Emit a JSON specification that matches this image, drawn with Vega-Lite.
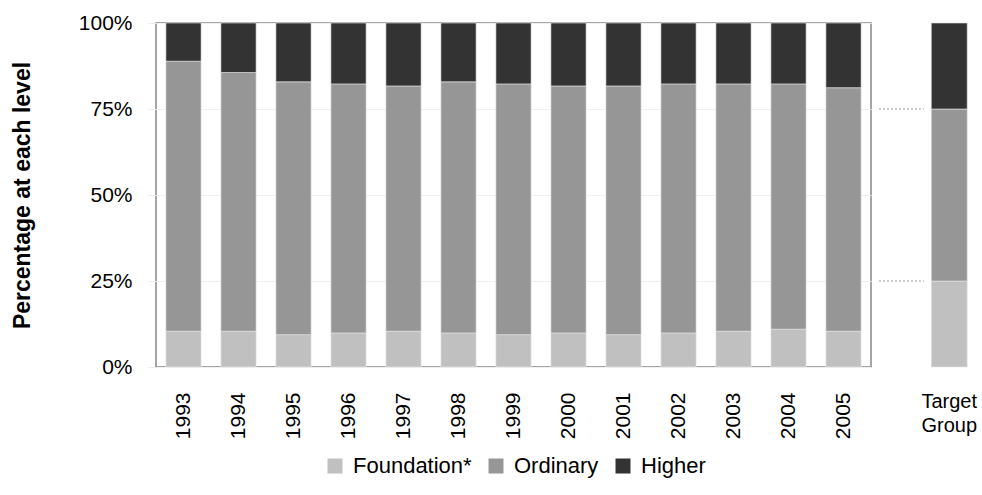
{
  "$schema": "https://vega.github.io/schema/vega-lite/v6.json",
  "padding": {"left": 10, "top": 11, "right": 5, "bottom": 5},
  "background": "white",
  "config": {
    "font": "Liberation Sans",
    "axis": {"labelColor": "#000", "titleColor": "#000"},
    "legend": {"labelColor": "#000"}
  },
  "datasets": {
    "years": [
      {"year": "1993", "level": "Foundation*", "value": 10.4},
      {"year": "1993", "level": "Ordinary", "value": 78.5},
      {"year": "1993", "level": "Higher", "value": 11.1},
      {"year": "1994", "level": "Foundation*", "value": 10.4},
      {"year": "1994", "level": "Ordinary", "value": 75.2},
      {"year": "1994", "level": "Higher", "value": 14.4},
      {"year": "1995", "level": "Foundation*", "value": 9.4},
      {"year": "1995", "level": "Ordinary", "value": 73.5},
      {"year": "1995", "level": "Higher", "value": 17.1},
      {"year": "1996", "level": "Foundation*", "value": 9.9},
      {"year": "1996", "level": "Ordinary", "value": 72.4},
      {"year": "1996", "level": "Higher", "value": 17.7},
      {"year": "1997", "level": "Foundation*", "value": 10.4},
      {"year": "1997", "level": "Ordinary", "value": 71.3},
      {"year": "1997", "level": "Higher", "value": 18.3},
      {"year": "1998", "level": "Foundation*", "value": 9.9},
      {"year": "1998", "level": "Ordinary", "value": 73.0},
      {"year": "1998", "level": "Higher", "value": 17.1},
      {"year": "1999", "level": "Foundation*", "value": 9.4},
      {"year": "1999", "level": "Ordinary", "value": 72.9},
      {"year": "1999", "level": "Higher", "value": 17.7},
      {"year": "2000", "level": "Foundation*", "value": 9.9},
      {"year": "2000", "level": "Ordinary", "value": 71.8},
      {"year": "2000", "level": "Higher", "value": 18.3},
      {"year": "2001", "level": "Foundation*", "value": 9.4},
      {"year": "2001", "level": "Ordinary", "value": 72.3},
      {"year": "2001", "level": "Higher", "value": 18.3},
      {"year": "2002", "level": "Foundation*", "value": 9.9},
      {"year": "2002", "level": "Ordinary", "value": 72.4},
      {"year": "2002", "level": "Higher", "value": 17.7},
      {"year": "2003", "level": "Foundation*", "value": 10.4},
      {"year": "2003", "level": "Ordinary", "value": 71.9},
      {"year": "2003", "level": "Higher", "value": 17.7},
      {"year": "2004", "level": "Foundation*", "value": 11.0},
      {"year": "2004", "level": "Ordinary", "value": 71.3},
      {"year": "2004", "level": "Higher", "value": 17.7},
      {"year": "2005", "level": "Foundation*", "value": 10.4},
      {"year": "2005", "level": "Ordinary", "value": 70.8},
      {"year": "2005", "level": "Higher", "value": 18.8}
    ],
    "target": [
      {"group": "Target Group", "level": "Foundation*", "value": 25},
      {"group": "Target Group", "level": "Ordinary", "value": 50},
      {"group": "Target Group", "level": "Higher", "value": 25}
    ],
    "refs": [
      {"group": "ref", "value": 25},
      {"group": "ref", "value": 75}
    ]
  },
  "spacing": 6,
  "hconcat": [
    {
      "width": 715,
      "height": 344,
      "view": {"stroke": "#888", "strokeWidth": 1.5},
      "data": {"name": "years"},
      "mark": {"type": "bar", "stroke": "#e6e6e6", "strokeWidth": 0.6},
      "encoding": {
        "x": {
          "field": "year", "type": "nominal",
          "scale": {"paddingInner": 0.36, "paddingOuter": 0.18},
          "axis": {"title": null, "labelAngle": -90, "labelFontSize": 21, "labelPadding": 25, "ticks": false, "domain": false}
        },
        "y": {
          "field": "value", "type": "quantitative", "stack": "zero",
          "scale": {"domain": [0, 100]},
          "axis": {
            "title": "Percentage at each level", "titleFontSize": 23, "titleFontWeight": "bold", "titlePadding": 44,
            "values": [0, 25, 50, 75, 100],
            "labelExpr": "datum.value + '%'",
            "labelFontSize": 21, "labelPadding": 16, "tickSize": 8, "tickColor": "#eeeeee",
            "domain": false, "gridColor": "#f0f0f0"
          }
        },
        "color": {
          "field": "level", "type": "nominal",
          "sort": ["Foundation*", "Ordinary", "Higher"],
          "scale": {"domain": ["Foundation*", "Ordinary", "Higher"], "range": ["#c0c0c0", "#969696", "#333333"]},
          "legend": {
            "title": null, "orient": "none", "direction": "horizontal",
            "legendX": 168, "legendY": 432,
            "symbolType": "square", "symbolSize": 225, "symbolStrokeWidth": 0,
            "labelFontSize": 22, "labelOffset": 7, "columnPadding": 13
          }
        },
        "order": {"field": "rank", "type": "quantitative"}
      },
      "transform": [
        {"calculate": "indexof(['Foundation*','Ordinary','Higher'], datum.level)", "as": "rank"}
      ]
    },
    {
      "width": 92.7,
      "height": 344,
      "view": {"stroke": null},
      "layer": [
        {
          "data": {"name": "target"},
          "mark": {"type": "bar", "width": {"band": 0.8}, "stroke": "#e6e6e6", "strokeWidth": 0.6},
          "transform": [
            {"calculate": "indexof(['Foundation*','Ordinary','Higher'], datum.level)", "as": "rank"}
          ],
          "encoding": {
            "x": {"field": "group", "type": "nominal"},
            "y": {"field": "value", "type": "quantitative", "stack": "zero"},
            "color": {"field": "level", "type": "nominal", "sort": ["Foundation*", "Ordinary", "Higher"]},
            "order": {"field": "rank", "type": "quantitative"}
          }
        },
        {
          "data": {"name": "refs"},
          "mark": {"type": "rule", "color": "#999999", "strokeDash": [2, 2], "strokeWidth": 1},
          "encoding": {
            "x": {"field": "group", "type": "nominal", "bandPosition": 0},
            "x2": {"field": "group", "bandPosition": 1},
            "y": {"field": "value", "type": "quantitative"}
          }
        }
      ],
      "encoding": {
        "x": {
          "field": "group", "type": "nominal",
          "scale": {"domain": ["ref", "Target Group"], "paddingInner": 0.06, "paddingOuter": 0},
          "axis": {
            "title": null, "labelAngle": 0, "labelFontSize": 20, "labelPadding": 24, "labelLineHeight": 24,
            "labelExpr": "datum.value == 'ref' ? '' : ['Target', 'Group']",
            "ticks": false, "domain": false, "labelBaseline": "top"
          }
        },
        "y": {"field": "value", "type": "quantitative", "scale": {"domain": [0, 100]}, "axis": null}
      }
    }
  ]
}
